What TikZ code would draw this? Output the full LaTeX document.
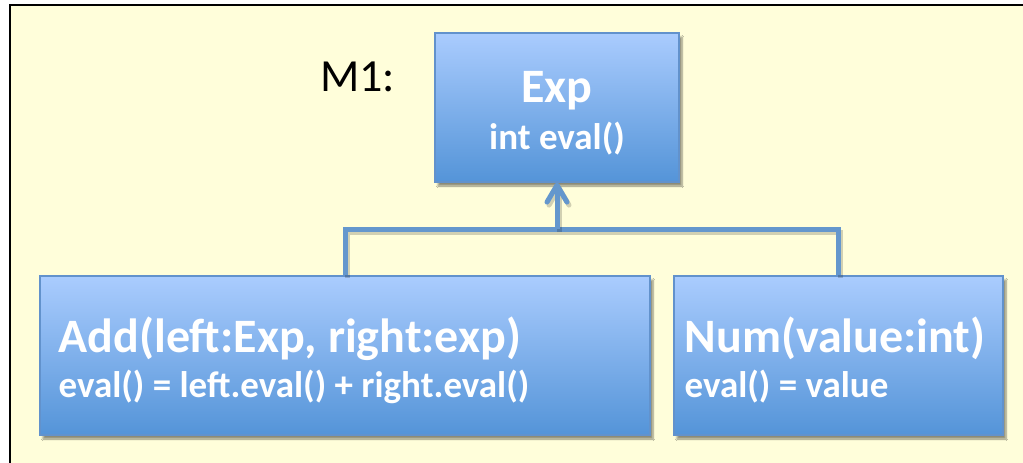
\documentclass[tikz,border=0pt]{standalone}
\usepackage{fontspec}
\setmainfont{Carlito}
\usepackage{tikz}
\usetikzlibrary{arrows.meta}
\usetikzlibrary{shadows.blur}
\definecolor{bgyellow}{RGB}{255,254,218}
\definecolor{boxtop}{RGB}{170,204,254}
\definecolor{boxbot}{RGB}{84,148,216}
\definecolor{boxline}{RGB}{98,146,204}
\definecolor{connblue}{RGB}{100,151,205}

\begin{document}
\begin{tikzpicture}[x=1pt,y=-1pt,
    cls/.style={draw=boxline, line width=1.2pt, top color=boxtop, bottom color=boxbot,
      inner sep=0pt, blur shadow={shadow xshift=3pt, shadow yshift=-4pt, shadow opacity=45, shadow blur steps=6}},
    head/.style={text=white, font=\fontsize{48}{52}\selectfont\bfseries, inner sep=0pt},
    body/.style={text=white, font=\fontsize{37}{41}\selectfont\bfseries, inner sep=0pt},
    conn/.style={draw=connblue, line width=5pt,
      preaction={draw=black, opacity=0.18, line width=5pt, transform canvas={xshift=2pt,yshift=-3pt}}}]
  \useasboundingbox (0,0) rectangle (1023,463);
  \fill[white] (0,0) rectangle (1023,463);
  \draw[line width=2pt, fill=bgyellow] (10,5) rectangle (1060,500);

  % classes
  \node[cls, minimum width=244pt, minimum height=149pt] (exp) at (557,107.5) {};
  \node[cls, minimum width=610pt, minimum height=159pt] (add) at (345,355.5) {};
  \node[cls, minimum width=329pt, minimum height=159pt] (num) at (838.5,355.5) {};

  \node[head, anchor=base] (exphead) at ([yshift=-70pt]exp.north) {Exp};
  \node[body, anchor=base] (expbody) at ([yshift=-117pt]exp.north) {int eval()};
  \node[head, anchor=base west] (addhead) at ([xshift=19pt,yshift=-77pt]add.north west) {Add(left:Exp, right:exp)};
  \node[body, anchor=base west] (addbody) at ([xshift=19pt,yshift=-122pt]add.north west) {eval() = left.eval() + right.eval()};
  \node[head, anchor=base west] (numhead) at ([xshift=11pt,yshift=-77pt]num.north west) {Num(value:int)};
  \node[body, anchor=base west] (numbody) at ([xshift=11pt,yshift=-122pt]num.north west) {eval() = value};

  \node[anchor=base west, inner sep=0pt, font=\fontsize{46}{50}\selectfont] (mname) at (320,91) {M1:};

  % inheritance
  \coordinate (bus) at (557,229);
  \draw[conn] (add.north) |- (bus) -| (num.north);
  \draw[conn, -{Straight Barb[length=17pt, width=20pt, round]}] (bus) -- (exp.south);
\end{tikzpicture}
\end{document}
